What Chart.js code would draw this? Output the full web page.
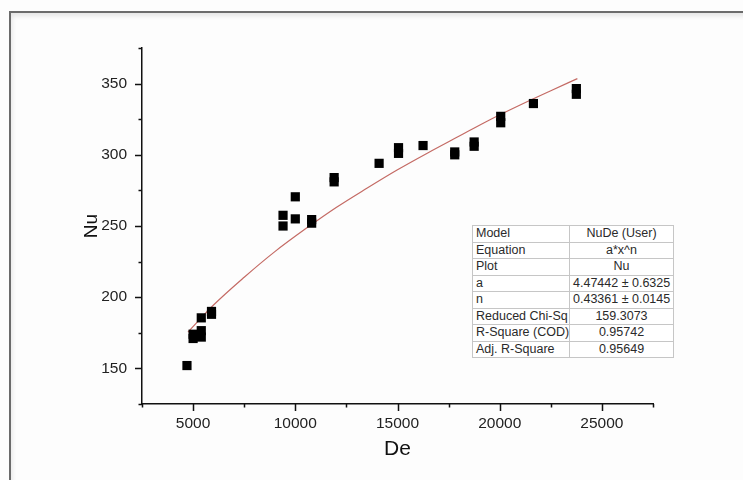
<!DOCTYPE html>
<html>
<head>
<meta charset="utf-8">
<title>Nu vs De</title>
<script src="https://cdn.jsdelivr.net/npm/chart.js@4.4.0/dist/chart.umd.min.js"></script>
<style>
  html, body { margin: 0; padding: 0; background: #fff; }
  #wrap { position: relative; width: 743px; height: 480px; overflow: hidden; background: #fdfdfd; }
  #frame {
    position: absolute; left: 9px; top: 11px; width: 800px; height: 520px;
    border-left: 2px solid #6b6b6b; border-top: 2px solid #6b6b6b;
    box-shadow: inset 1px 3px 5px rgba(0, 0, 0, 0.10);
  }
  #chart { position: absolute; left: 0; top: 0; }
  #stats {
    position: absolute; left: 472px; top: 225px; width: 202px;
    border-collapse: collapse; background: #fff; table-layout: fixed;
    font-family: Arial, "Liberation Sans", sans-serif; font-size: 12.5px; color: #2a2a2a;
  }
  #stats td { border: 1px solid #c6c6c6; height: 15.5px; padding: 0 3px; line-height: 15px; white-space: nowrap; overflow: hidden; }
  #stats td.k { width: 90px; }
  #stats td.v { text-align: center; }
</style>
</head>
<body>
<div id="wrap">
  <div id="frame"></div>
  <canvas id="chart" width="743" height="480"></canvas>
  <table id="stats"><tbody></tbody></table>
</div>
<script>
// measured points
var De = [4700, 5000, 5000, 5400, 5400, 5400, 5900, 5900, 9400, 9400, 10000, 10000,
  10800, 10800, 11900, 11900, 14100, 15050, 15050, 16250, 17800, 17800, 18750, 18750,
  20050, 20050, 21650, 23750, 23750];
var Nu = [152, 174, 171, 176.5, 172, 185.5, 188, 190, 257.5, 250, 270.5, 255,
  254.5, 252, 281, 284, 294, 301, 305, 306.5, 300, 302, 306, 309,
  322.5, 327, 336, 342.5, 346.5];

// fitted curve as traced on the plot
var fitDe = [4750, 6000, 7500, 9000, 10500, 12000, 13500, 15000, 16500, 18000, 19500, 21000, 22500, 23800];
var fitNu = [175.5, 194.5, 214, 232, 248, 263, 276.5, 289.5, 301.5, 313, 324.5, 335, 345, 353.5];

var xMajor = [5000, 10000, 15000, 20000, 25000];
var yMajor = [150, 200, 250, 300, 350];

var statNames = ['Model', 'Equation', 'Plot', 'a', 'n', 'Reduced Chi-Sq', 'R-Square (COD)', 'Adj. R-Square'];
var statValues = ['NuDe (User)', 'a*x^n', 'Nu', '4.47442 \u00b1 0.6325', '0.43361 \u00b1 0.0145', '159.3073', '0.95742', '0.95649'];

(function () {
  var tbody = document.querySelector('#stats tbody');
  statNames.forEach(function (name, i) {
    var tr = document.createElement('tr');
    var a = document.createElement('td');
    a.className = 'k';
    a.textContent = name;
    var b = document.createElement('td');
    b.className = 'v';
    b.textContent = statValues[i];
    tr.appendChild(a);
    tr.appendChild(b);
    tbody.appendChild(tr);
  });
})();

// outward tick marks: long on labelled values, short in between
var tickMarks = {
  id: 'tickMarks',
  afterDraw: function (chart) {
    var ctx = chart.ctx;
    var xs = chart.scales.x;
    var ys = chart.scales.y;
    var area = chart.chartArea;
    ctx.save();
    ctx.strokeStyle = '#111';
    ctx.lineWidth = 1.5;
    ctx.beginPath();
    xs.ticks.forEach(function (t) {
      var px = Math.round(xs.getPixelForValue(t.value)) + 0.5;
      var len = xMajor.indexOf(t.value) >= 0 ? 7 : 3.5;
      ctx.moveTo(px, area.bottom);
      ctx.lineTo(px, area.bottom + len);
    });
    ys.ticks.forEach(function (t) {
      var py = Math.round(ys.getPixelForValue(t.value)) + 0.5;
      var len = yMajor.indexOf(t.value) >= 0 ? 7 : 3.5;
      ctx.moveTo(area.left, py);
      ctx.lineTo(area.left - len, py);
    });
    ctx.stroke();
    ctx.restore();
  }
};

var fam = 'Arial, "Liberation Sans", sans-serif';

new Chart(document.getElementById('chart').getContext('2d'), {
  type: 'scatter',
  data: {
    datasets: [{
      label: 'Nu',
      data: De.map(function (x, i) { return { x: x, y: Nu[i] }; }),
      pointStyle: 'rect',
      pointRadius: 6.5,
      backgroundColor: '#000',
      borderColor: '#000',
      borderWidth: 0
    }, {
      label: 'Fit',
      data: fitDe.map(function (x, i) { return { x: x, y: fitNu[i] }; }),
      showLine: true,
      pointRadius: 0,
      borderColor: '#c46a64',
      borderWidth: 1.2,
      cubicInterpolationMode: 'monotone'
    }]
  },
  options: {
    responsive: false,
    animation: false,
    layout: { padding: { left: 0, top: 48, right: 90, bottom: 0 } },
    plugins: { legend: { display: false }, tooltip: { enabled: false } },
    scales: {
      x: {
        type: 'linear',
        min: 2500,
        max: 27500,
        afterFit: function (s) { s.height = 76; },
        border: { display: true, color: '#111', width: 1.5 },
        grid: { display: true, drawOnChartArea: false, color: 'transparent', tickLength: 7 },
        ticks: {
          stepSize: 2500,
          autoSkip: false,
          maxRotation: 0,
          padding: 3,
          color: '#222',
          font: { family: fam, size: 15.5 },
          callback: function (v) { return xMajor.indexOf(v) >= 0 ? String(v) : ''; }
        },
        title: { display: true, text: 'De', color: '#111', font: { family: fam, size: 21 }, padding: { top: 0, bottom: 18 } }
      },
      y: {
        type: 'linear',
        min: 125,
        max: 375,
        afterFit: function (s) { s.width = 142; },
        border: { display: true, color: '#111', width: 1.5 },
        grid: { display: true, drawOnChartArea: false, color: 'transparent', tickLength: 7 },
        ticks: {
          stepSize: 25,
          autoSkip: false,
          padding: 8,
          color: '#222',
          font: { family: fam, size: 15.5 },
          callback: function (v) { return yMajor.indexOf(v) >= 0 ? String(v) : ''; }
        },
        title: { display: true, text: 'Nu', color: '#111', font: { family: fam, size: 19 }, padding: { top: 80, bottom: 0 } }
      }
    }
  },
  plugins: [tickMarks]
});
</script>
</body>
</html>
